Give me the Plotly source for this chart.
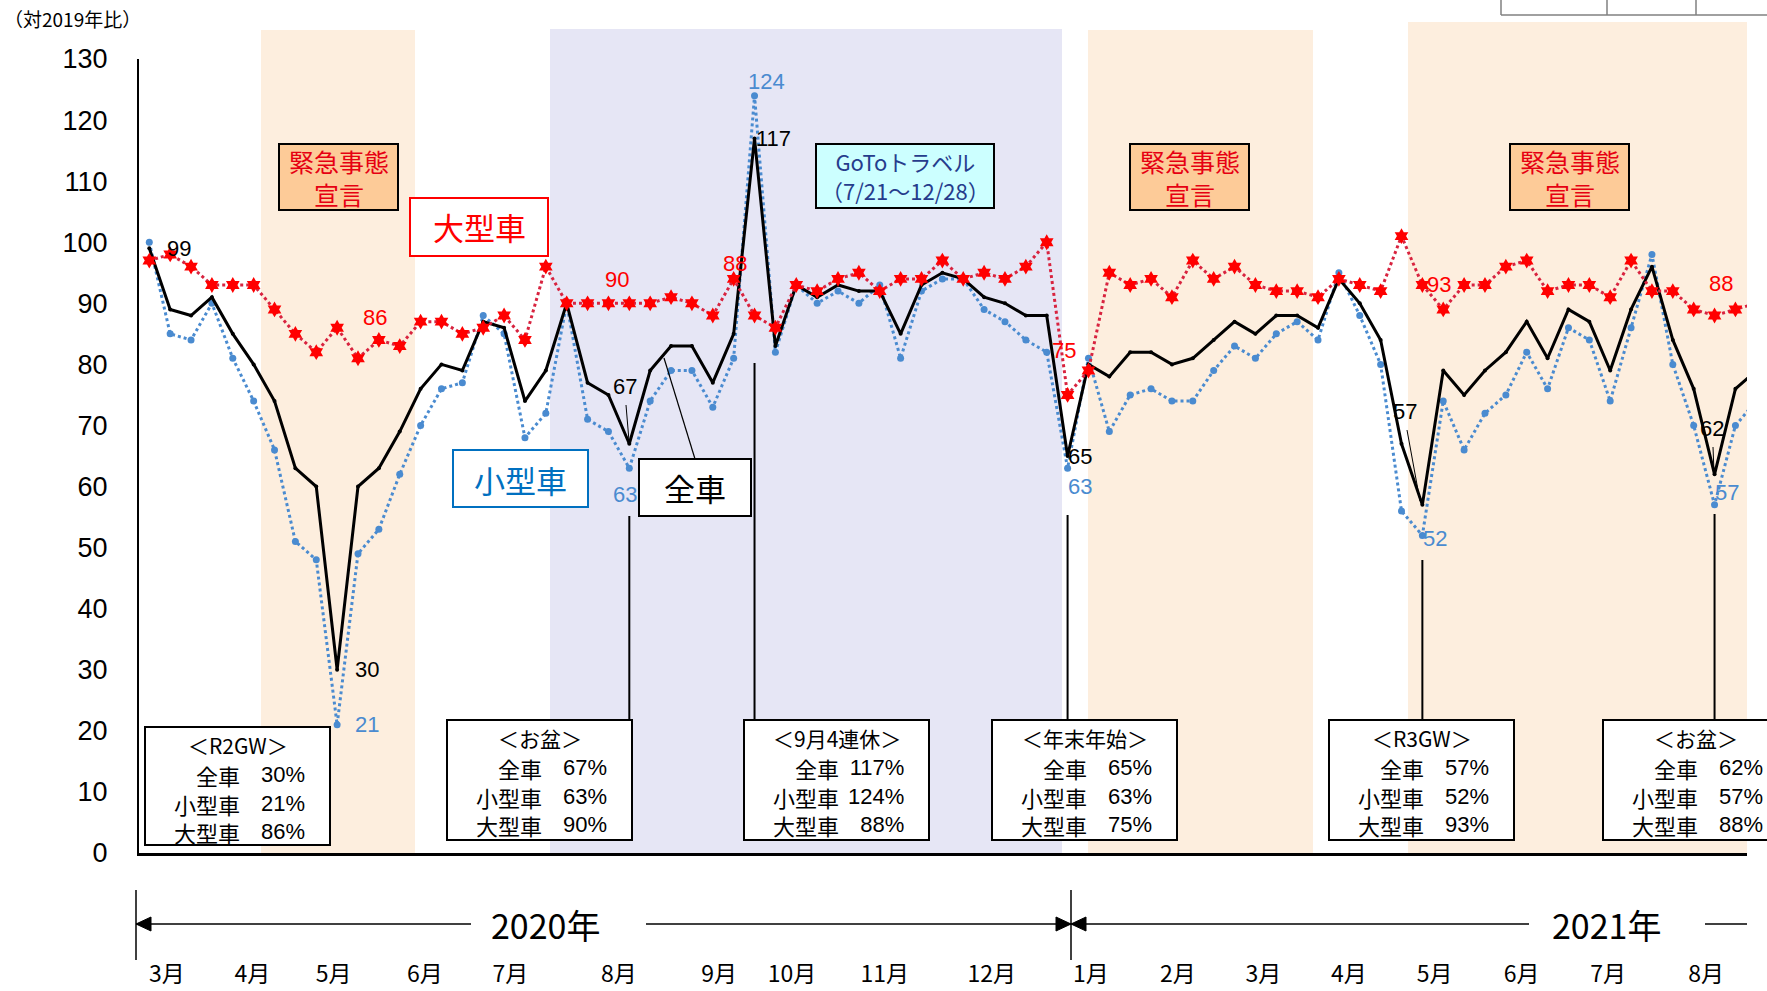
import plotly.graph_objects as go

# ---------------- data ----------------
all_cars = [99, 89, 88, 91, 85, 80, 74, 63, 60, 30,
            60, 63, 69, 76, 80, 79, 87, 86, 74, 79,
            90, 77, 75, 67, 79, 83, 83, 77, 85, 117,
            83, 93, 91, 93, 92, 92, 85, 93, 95, 94,
            91, 90, 88, 88, 65, 80, 78, 82, 82, 80,
            81, 84, 87, 85, 88, 88, 86, 94, 90, 84,
            67, 57, 79, 75, 79, 82, 87, 81, 89, 87,
            79, 89, 96, 84, 76, 62, 76, 79]
small_cars = [100, 85, 84, 90, 81, 74, 66, 51, 48, 21,
              49, 53, 62, 70, 76, 77, 88, 85, 68, 72,
              90, 71, 69, 63, 74, 79, 79, 73, 81, 124,
              82, 93, 90, 92, 90, 93, 81, 92, 94, 94,
              89, 87, 84, 82, 63, 81, 69, 75, 76, 74,
              74, 79, 83, 81, 85, 87, 84, 95, 88, 80,
              56, 52, 74, 66, 72, 75, 82, 76, 86, 84,
              74, 86, 98, 80, 70, 57, 70, 74]
large_cars = [97, 98, 96, 93, 93, 93, 89, 85, 82, 86,
              81, 84, 83, 87, 87, 85, 86, 88, 84, 96,
              90, 90, 90, 90, 90, 91, 90, 88, 94, 88,
              86, 93, 92, 94, 95, 92, 94, 94, 97, 94,
              95, 94, 96, 100, 75, 79, 95, 93, 94, 91,
              97, 94, 96, 93, 92, 92, 91, 94, 93, 92,
              101, 93, 89, 93, 93, 96, 97, 92, 93, 93,
              91, 97, 92, 92, 89, 88, 89, 90]
weeks = list(range(len(all_cars)))

series_names = ["全車", "小型車", "大型車"]
month_labels = ["3月", "4月", "5月", "6月", "7月", "8月", "9月", "10月", "11月", "12月",
                "1月", "2月", "3月", "4月", "5月", "6月", "7月", "8月"]
year_labels = ["2020年", "2021年"]
y_ticks = list(range(0, 131, 10))
event_names = ["＜R2GW＞", "＜お盆＞", "＜9月4連休＞", "＜年末年始＞", "＜R3GW＞", "＜お盆＞"]
event_weeks = [9, 23, 29, 44, 61, 75]
decl_text = "緊急事態<br>宣言"
goto_text = "GoToトラベル<br>（7/21～12/28）"
y_title = "（対2019年比）"

# ---------------- layout geometry ----------------
W, H = 1767, 991
L, R, T, B = 139, 1747, 59, 853
X_FIRST, X_STEP = 149.3, 20.87
x_lo = (L - X_FIRST) / X_STEP
x_hi = (R - X_FIRST) / X_STEP
month_pos = [0.84, 4.94, 8.83, 13.2, 17.3, 22.5, 27.3, 30.8, 35.24, 40.37,
             45.12, 49.28, 53.38, 57.48, 61.59, 65.75, 69.9, 74.6]

JP = "Noto Sans CJK JP"
NUM = "Liberation Sans"
BLUE = "#4A8BD0"
RED = "#FF0000"


def px(x):
    return (x - L) / (R - L)


def py(y):
    return (B - y) / (B - T)


fig = go.Figure()
fig.add_trace(go.Scatter(x=weeks, y=small_cars, name=series_names[1], mode="lines+markers",
                         line=dict(color=BLUE, width=3, dash="dot"),
                         marker=dict(size=7, color=BLUE), hoverinfo="skip"))
fig.add_trace(go.Scatter(x=weeks, y=all_cars, name=series_names[0], mode="lines+markers",
                         line=dict(color="black", width=3),
                         marker=dict(size=4, color="black"), hoverinfo="skip"))
fig.add_trace(go.Scatter(x=weeks, y=large_cars, name=series_names[2], mode="lines+markers",
                         line=dict(color="#D8233F", width=3, dash="dot"),
                         marker=dict(size=12, color=RED, symbol="hexagram"), hoverinfo="skip"))

shapes = []
ann = []


def rect(x0, y0, x1, y1, fill, line_color, lw=2, layer="above"):
    shapes.append(dict(type="rect", xref="paper", yref="paper",
                       x0=px(x0), x1=px(x1), y0=py(y1), y1=py(y0),
                       fillcolor=fill, line=dict(color=line_color, width=lw), layer=layer))


def seg(x0, y0, x1, y1, color="black", lw=2):
    shapes.append(dict(type="line", xref="paper", yref="paper",
                       x0=px(x0), x1=px(x1), y0=py(y0), y1=py(y1),
                       line=dict(color=color, width=lw), layer="above"))


def text(x, y, s, size, color="black", family=JP, xanchor="center", align="center"):
    ann.append(dict(xref="paper", yref="paper", x=px(x), y=py(y), text=s, showarrow=False,
                    xanchor=xanchor, yanchor="middle", align=align,
                    font=dict(family=family, size=size, color=color)))


# background bands
for x0, x1, top, col in [(261, 415, 30, "#FDEEDE"), (550, 1062, 29, "#E6E6F5"),
                         (1088, 1313, 30, "#FDEEDE"), (1408, 1747, 22, "#FDEEDE")]:
    shapes.append(dict(type="rect", xref="paper", yref="paper", x0=px(x0), x1=px(x1),
                       y0=0, y1=py(top), fillcolor=col, line=dict(width=0), layer="below"))

# table fragment top right
seg(1501, 15, 1767, 15, "#808080", 1.5)
for xv in (1501, 1607, 1696):
    seg(xv, 0, xv, 15, "#808080", 1.5)

# declaration boxes
for x0 in (279, 1130, 1510):
    rect(x0, 144, x0 + 119, 210, "#FDCB98", "black", 2)
    text(x0 + 59.5, 177, decl_text, 25, "#E60012")

# GoTo box
rect(816, 144, 994, 208, "#CCFFFF", "black", 2)
text(905, 176, goto_text, 22, "#263C8C")

# series name boxes
rect(410, 198, 548, 256, "white", RED, 2)
text(479, 227, series_names[2], 31, RED)
rect(453, 450, 588, 507, "white", "#0070C0", 2)
text(520, 479, series_names[1], 31, "#0070C0")
rect(639, 459, 751, 516, "white", "black", 2)
text(695, 487, series_names[0], 31, "black")
seg(695, 459, 664, 358, "black", 1.2)

# event boxes
box_left = [145, 447, 744, 992, 1329, 1603]
box_top = [727, 720, 720, 720, 720, 720]
box_bot = [845, 840, 840, 840, 840, 840]
link_top = [None, 516, 363, 515, 560, 514]
for i, (name, wk) in enumerate(zip(event_names, event_weeks)):
    lx = box_left[i]
    rect(lx, box_top[i], lx + 185, box_bot[i], "white", "black", 2)
    hy = box_top[i] + 18
    text(lx + 93, hy, name, 21)
    rows_c = hy + 58
    text(lx + 97, rows_c, "<br>".join(series_names), 22, xanchor="right", align="right")
    vals = [f"{all_cars[wk]}%", f"{small_cars[wk]}%", f"{large_cars[wk]}%"]
    text(lx + 162, rows_c, "<br>".join(vals), 22, family=NUM, xanchor="right", align="right")
    if link_top[i] is not None:
        shapes.append(dict(type="line", xref="x", yref="paper", x0=wk, x1=wk,
                           y0=py(box_top[i]), y1=py(link_top[i]),
                           line=dict(color="black", width=2), layer="above"))

# small leader lines for labels
seg(626, 405, 629, 441, "black", 1)
seg(1407, 430, 1420, 501, "black", 1)
seg(1713, 447, 1714, 472, "black", 1)

# data labels
series_map = {"all": (all_cars, "black"), "small": (small_cars, BLUE), "large": (large_cars, RED)}
labels = [("all", 0, 30, 0), ("all", 9, 30, 0), ("small", 9, 30, 0), ("large", 9, 38, 10),
          ("large", 22, 9, 24), ("all", 23, -4, 57), ("small", 23, -4, -26),
          ("large", 29, -20, 52), ("small", 29, 12, 14), ("all", 29, 19, 0),
          ("large", 44, -4, 44), ("all", 44, 12, 0), ("small", 44, 12, -18),
          ("all", 61, -17, 93), ("small", 61, 13, -3), ("large", 61, 17, 0),
          ("all", 75, -3, 46), ("small", 75, 12, 12), ("large", 75, 6, 32)]
for key, wk, dx, dy in labels:
    vals, col = series_map[key]
    ann.append(dict(xref="x", yref="y", x=wk, y=vals[wk], text=str(vals[wk]), showarrow=False,
                    xshift=dx, yshift=dy, font=dict(family=NUM, size=22, color=col)))

# year axis decorations
YA = 924
seg(136, 890, 136, 960, "black", 1.5)
seg(1071, 890, 1071, 960, "black", 1.5)
seg(136, YA, 471, YA, "black", 1.5)
seg(646, YA, 1071, YA, "black", 1.5)
seg(1071, YA, 1529, YA, "black", 1.5)
seg(1705, YA, 1747, YA, "black", 1.5)


def tri(tip_x, base_x):
    path = (f"M {px(tip_x)},{py(YA)} L {px(base_x)},{py(YA - 7)} "
            f"L {px(base_x)},{py(YA + 7)} Z")
    shapes.append(dict(type="path", xref="paper", yref="paper", path=path,
                       fillcolor="black", line=dict(color="black", width=1), layer="above"))


tri(136, 151)
tri(1071, 1056)
tri(1071, 1086)
text(545, YA, year_labels[0], 34, family=JP)
text(1606, YA, year_labels[1], 34, family=JP)

# y title
text(72, 19, y_title, 19)

fig.update_layout(
    width=W, height=H,
    margin=dict(l=L, r=W - R, t=T, b=H - B, pad=0, autoexpand=False),
    paper_bgcolor="white", plot_bgcolor="rgba(0,0,0,0)",
    showlegend=False,
    shapes=shapes, annotations=ann,
    xaxis=dict(range=[x_lo, x_hi], showgrid=False, zeroline=False, showline=True,
               automargin=False,
               linecolor="black", linewidth=3, ticks="", tickvals=month_pos,
               ticktext=month_labels, tickangle=0, ticklabelstandoff=98,
               tickfont=dict(family=JP, size=23, color="black"), fixedrange=True),
    yaxis=dict(range=[0, 130], showgrid=False, zeroline=False, showline=True,
               automargin=False,
               linecolor="black", linewidth=2, ticks="", tickvals=y_ticks,
               ticklabelstandoff=24,
               tickfont=dict(family=NUM, size=27, color="black"),
               fixedrange=True),
)

fig.write_html("out.html")
